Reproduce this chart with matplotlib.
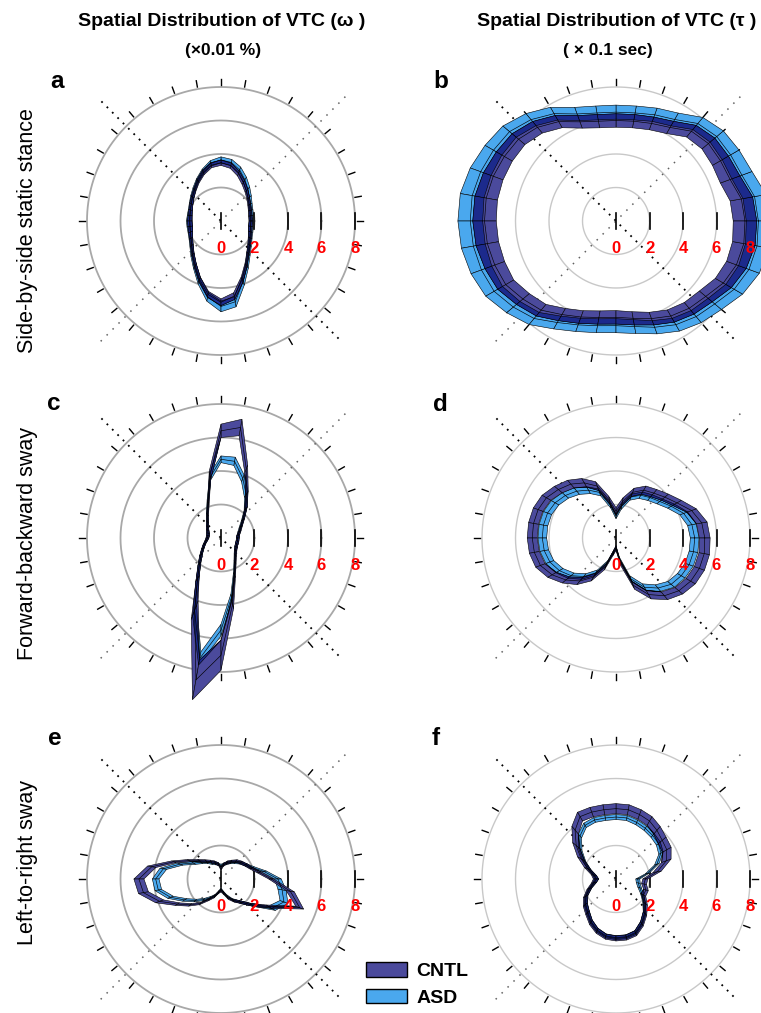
import numpy as np
import matplotlib
matplotlib.use("Agg")
import matplotlib.pyplot as plt
from matplotlib.patches import Patch

plt.rcParams['font.family'] = ['Liberation Sans', 'DejaVu Sans']

# ---------------- data ----------------
ANGLES_DEG = list(range(0, 360, 10))
RINGS = [2, 4, 6, 8]
AXIS_TICKS = [0, 2, 4, 6, 8]
AXIS_LABELS = ["0", "2", "4", "6", "8"]
OUTER_TICK_DEG = list(range(0, 360, 10))
GROUPS = ["CNTL", "ASD"]
COL_TITLES = ["Spatial Distribution of VTC (\u03c9 )", "Spatial Distribution of VTC (\u03c4 )"]
COL_SUBTITLES = ["(\u00d70.01 %)", "( \u00d7 0.1 sec)"]
ROW_LABELS = ["Side-by-side static stance", "Forward-backward sway", "Left-to-right sway"]
PANEL_LETTERS = ["a", "b", "c", "d", "e", "f"]

A_CNTL_MEAN = [1.78,1.78,1.84,1.95,2.12,2.36,2.66,3.02,3.35,3.48,3.38,3.08,2.74,2.43,2.21,2.04,1.93,1.87,1.86,1.86,1.93,2.06,2.27,2.60,3.07,3.72,4.45,4.85,4.55,3.70,3.00,2.50,2.19,1.98,1.85,1.78]
A_CNTL_SE = [0.10,0.10,0.10,0.10,0.10,0.12,0.14,0.15,0.16,0.16,0.15,0.14,0.12,0.10,0.10,0.10,0.10,0.12,0.14,0.14,0.12,0.10,0.10,0.10,0.12,0.14,0.18,0.20,0.20,0.16,0.12,0.10,0.10,0.10,0.10,0.10]
A_ASD_MEAN = [1.80,1.82,1.90,2.02,2.22,2.50,2.85,3.25,3.55,3.65,3.50,3.15,2.80,2.48,2.24,2.06,1.95,1.90,1.90,1.90,1.95,2.08,2.30,2.65,3.12,3.80,4.60,5.10,4.90,3.85,3.10,2.56,2.24,2.02,1.88,1.80]
A_ASD_SE = [0.12,0.12,0.12,0.12,0.14,0.16,0.18,0.18,0.18,0.18,0.16,0.14,0.12,0.12,0.12,0.12,0.12,0.14,0.16,0.16,0.14,0.12,0.12,0.14,0.16,0.20,0.26,0.32,0.30,0.22,0.16,0.14,0.12,0.12,0.12,0.12]

B_CNTL_MEAN = [7.70,7.60,7.25,7.20,7.20,7.00,6.45,6.20,6.05,6.00,6.05,6.30,6.85,7.30,7.60,7.70,7.80,7.87,7.85,7.80,7.70,7.60,7.25,6.95,6.45,6.10,5.85,5.75,5.90,6.20,6.55,6.80,7.00,7.40,7.65,7.75]
B_CNTL_SE = [0.70,0.68,0.62,0.55,0.50,0.45,0.42,0.40,0.40,0.40,0.40,0.40,0.42,0.45,0.50,0.55,0.62,0.68,0.70,0.68,0.62,0.55,0.50,0.45,0.42,0.40,0.40,0.40,0.40,0.40,0.42,0.45,0.50,0.55,0.62,0.68]
B_ASD_MEAN = [8.50,8.40,8.00,7.90,7.85,7.60,7.00,6.75,6.55,6.50,6.55,6.80,7.40,7.90,8.30,8.45,8.60,8.72,8.70,8.65,8.55,8.40,8.00,7.60,7.00,6.60,6.35,6.25,6.40,6.75,7.15,7.45,7.70,8.15,8.45,8.55]
B_ASD_SE = [0.72,0.70,0.64,0.58,0.52,0.47,0.44,0.42,0.42,0.42,0.42,0.42,0.44,0.47,0.52,0.58,0.66,0.72,0.74,0.72,0.66,0.58,0.52,0.47,0.44,0.42,0.42,0.42,0.42,0.42,0.44,0.47,0.52,0.58,0.66,0.70]

C_CNTL_MEAN = [1.00,1.05,1.20,1.40,1.75,2.30,3.10,4.40,6.70,6.40,3.80,2.20,1.60,1.25,1.05,0.92,0.82,0.78,0.80,0.88,1.05,1.25,1.55,2.00,2.80,4.60,8.60,7.00,4.00,2.40,1.70,1.35,1.15,1.05,1.00,1.00]
C_CNTL_SE = [0.08,0.08,0.08,0.08,0.10,0.12,0.15,0.25,0.50,0.40,0.25,0.12,0.10,0.08,0.08,0.08,0.08,0.08,0.08,0.08,0.08,0.08,0.10,0.12,0.20,0.60,1.20,0.90,0.30,0.12,0.10,0.08,0.08,0.08,0.08,0.08]
C_ASD_MEAN = [1.00,1.05,1.15,1.35,1.70,2.30,3.00,3.80,4.65,4.70,3.70,2.30,1.65,1.25,1.05,0.90,0.82,0.80,0.82,0.90,1.05,1.25,1.55,2.00,2.80,4.60,7.30,5.50,3.60,2.30,1.65,1.30,1.12,1.03,1.00,1.00]
C_ASD_SE = [0.08,0.08,0.08,0.10,0.12,0.15,0.20,0.22,0.25,0.20,0.18,0.12,0.10,0.08,0.08,0.08,0.08,0.08,0.08,0.08,0.08,0.10,0.12,0.15,0.20,0.35,0.40,0.35,0.20,0.12,0.10,0.08,0.08,0.08,0.08,0.08]

D_CNTL_MEAN = [5.30,5.20,4.80,4.20,3.80,3.50,3.30,2.90,2.20,1.60,2.30,3.30,3.80,4.20,4.50,4.80,4.95,5.00,5.00,4.95,4.80,4.40,3.90,3.35,2.70,1.80,0.90,0.60,1.50,3.00,3.90,4.50,4.90,5.15,5.30,5.35]
D_CNTL_SE = [0.32,0.32,0.30,0.30,0.28,0.28,0.28,0.26,0.24,0.22,0.24,0.28,0.30,0.30,0.30,0.30,0.30,0.30,0.30,0.30,0.30,0.30,0.28,0.28,0.26,0.22,0.18,0.15,0.20,0.26,0.30,0.30,0.30,0.32,0.32,0.32]
D_ASD_MEAN = [4.70,4.60,4.30,3.80,3.40,3.15,2.95,2.60,1.90,1.30,2.00,2.90,3.30,3.65,3.95,4.20,4.35,4.40,4.40,4.35,4.20,3.90,3.50,3.00,2.40,1.60,0.85,0.60,1.30,2.60,3.40,3.90,4.30,4.50,4.65,4.70]
D_ASD_SE = [0.26,0.26,0.25,0.24,0.22,0.22,0.22,0.20,0.18,0.15,0.18,0.22,0.24,0.25,0.25,0.26,0.26,0.26,0.26,0.26,0.25,0.25,0.24,0.22,0.20,0.16,0.12,0.10,0.14,0.20,0.24,0.25,0.26,0.26,0.26,0.26]

E_CNTL_MEAN = [3.00,2.30,1.90,1.70,1.55,1.40,1.20,1.05,0.85,0.60,0.90,1.05,1.20,1.40,1.70,2.20,3.00,4.20,4.90,4.70,3.90,3.00,2.40,1.90,1.40,1.10,0.80,0.70,0.85,1.20,1.50,1.80,2.40,3.30,5.00,4.20]
E_CNTL_SE = [0.15,0.12,0.10,0.10,0.10,0.10,0.10,0.10,0.10,0.08,0.10,0.10,0.10,0.10,0.12,0.12,0.15,0.25,0.30,0.30,0.25,0.15,0.12,0.10,0.10,0.10,0.08,0.08,0.10,0.10,0.10,0.12,0.15,0.20,0.25,0.25]
E_ASD_MEAN = [3.40,2.60,2.00,1.70,1.50,1.30,1.15,1.00,0.90,0.80,0.90,1.00,1.10,1.30,1.55,1.90,2.60,3.50,3.90,3.80,3.20,2.50,2.00,1.60,1.30,1.05,0.80,0.60,0.80,1.10,1.45,1.80,2.40,3.50,4.00,3.70]
E_ASD_SE = [0.20,0.15,0.12,0.10,0.10,0.10,0.10,0.10,0.08,0.08,0.08,0.10,0.10,0.10,0.12,0.15,0.18,0.20,0.20,0.20,0.18,0.15,0.12,0.10,0.10,0.08,0.08,0.08,0.08,0.10,0.10,0.12,0.15,0.25,0.25,0.25]

F_CNTL_MEAN = [1.75,2.50,3.20,3.50,3.60,3.80,4.00,4.10,4.20,4.20,4.20,4.25,4.30,3.80,3.10,2.40,1.80,1.35,1.20,1.35,1.70,2.10,2.40,2.65,3.00,3.30,3.50,3.55,3.55,3.45,3.10,2.70,2.30,1.90,1.90,1.70]
F_CNTL_SE = [0.15,0.25,0.30,0.30,0.30,0.30,0.30,0.30,0.30,0.30,0.30,0.30,0.30,0.30,0.28,0.25,0.20,0.15,0.15,0.15,0.15,0.15,0.15,0.15,0.15,0.15,0.15,0.15,0.15,0.15,0.15,0.15,0.15,0.15,0.15,0.15]
F_ASD_MEAN = [1.30,1.90,2.60,3.10,3.30,3.40,3.50,3.60,3.70,3.70,3.70,3.75,3.70,3.35,2.80,2.20,1.70,1.30,1.15,1.30,1.65,2.05,2.35,2.60,2.95,3.25,3.45,3.50,3.50,3.40,3.05,2.65,2.20,1.80,1.50,1.35]
F_ASD_SE = [0.12,0.12,0.15,0.15,0.15,0.15,0.15,0.15,0.15,0.15,0.15,0.15,0.15,0.15,0.15,0.12,0.12,0.12,0.12,0.12,0.12,0.12,0.12,0.12,0.12,0.12,0.12,0.12,0.12,0.12,0.12,0.12,0.12,0.12,0.12,0.12]

PANELS = [
    (A_CNTL_MEAN, A_CNTL_SE, A_ASD_MEAN, A_ASD_SE),
    (B_CNTL_MEAN, B_CNTL_SE, B_ASD_MEAN, B_ASD_SE),
    (C_CNTL_MEAN, C_CNTL_SE, C_ASD_MEAN, C_ASD_SE),
    (D_CNTL_MEAN, D_CNTL_SE, D_ASD_MEAN, D_ASD_SE),
    (E_CNTL_MEAN, E_CNTL_SE, E_ASD_MEAN, E_ASD_SE),
    (F_CNTL_MEAN, F_CNTL_SE, F_ASD_MEAN, F_ASD_SE),
]

# ---------------- style / layout ----------------
W, H = 761, 1013
C_CNTL = '#4b4a9c'
C_ASD = '#4aa8ee'
C_BOTH = '#1c2a8c'
PX_PER_UNIT = 16.75
RLIM = 11.0
COL_X = [221, 616]
ROW_Y = [221, 538, 879]
RING_STYLE = [('#a8a8a8', 1.3), ('#c8c8c8', 1.0)]

fig = plt.figure(figsize=(W / 100, H / 100), dpi=100)

th = np.deg2rad(ANGLES_DEG)
n = len(th)


def band(ax, lo, hi, color):
    for i in range(n):
        j = (i + 1) % n
        ax.fill([th[i], th[j], th[j], th[i]], [lo[i], lo[j], hi[j], hi[i]],
                facecolor=color, edgecolor='black', linewidth=0.4, zorder=3)


for k, (cm, cs, am, as_) in enumerate(PANELS):
    row, col = divmod(k, 2)
    cx, cy = COL_X[col], ROW_Y[row]
    h = RLIM * PX_PER_UNIT
    ax = fig.add_axes([(cx - h) / W, 1 - (cy + h) / H, 2 * h / W, 2 * h / H],
                      projection='polar')
    ax.set_ylim(0, RLIM)
    ax.grid(False)
    ax.set_xticks([])
    ax.set_yticks([])
    ax.spines['polar'].set_visible(False)
    ax.patch.set_alpha(0)

    # rings
    tt = np.linspace(0, 2 * np.pi, 361)
    rc, rlw = RING_STYLE[col]
    for rr in RINGS:
        ax.plot(tt, np.full_like(tt, rr), color=rc, lw=rlw, zorder=1)
    # outer ticks
    for a in OUTER_TICK_DEG:
        t = np.deg2rad(a)
        ax.plot([t, t], [8.12, 8.5], color='black', lw=1.0, zorder=1)
    # diagonal dotted lines
    ax.plot([np.deg2rad(135), np.deg2rad(315)], [10.1, 10.1], color='black',
            lw=1.3, ls=(0, (1, 3.2)), zorder=1)
    ax.plot([np.deg2rad(45), np.deg2rad(225)], [10.5, 10.5], color='#606060',
            lw=1.1, ls=(0, (1, 4.5)), zorder=1)
    # axis ticks and labels
    for v, lab in zip(AXIS_TICKS, AXIS_LABELS):
        y0, y1 = -0.45, 0.45
        ax.plot([np.arctan2(y0, v), np.arctan2(y1, v)],
                [np.hypot(v, y0), np.hypot(v, y1)], color='black', lw=1.2, zorder=2)
        ax.annotate(lab, xy=(0, v), xytext=(0, -19.5), textcoords='offset points',
                    ha='center', va='center', color='red', fontweight='bold',
                    fontsize=12, zorder=6)

    cm = np.array(cm); cs = np.array(cs); am = np.array(am); as_ = np.array(as_)
    c_lo, c_hi = np.clip(cm - cs, 0, None), cm + cs
    a_lo, a_hi = np.clip(am - as_, 0, None), am + as_
    band(ax, a_lo, a_hi, C_ASD)
    band(ax, c_lo, c_hi, C_CNTL)
    o_lo = np.maximum(c_lo, a_lo)
    o_hi = np.minimum(c_hi, a_hi)
    for i in range(n):
        j = (i + 1) % n
        if o_hi[i] > o_lo[i] or o_hi[j] > o_lo[j]:
            hi_i = max(o_hi[i], o_lo[i]); hi_j = max(o_hi[j], o_lo[j])
            ax.fill([th[i], th[j], th[j], th[i]], [o_lo[i], o_lo[j], hi_j, hi_i],
                    facecolor=C_BOTH, edgecolor='black', linewidth=0.4, zorder=4)
    for m in (cm, am):
        ax.plot(np.append(th, th[0]), np.append(m, m[0]), color='black', lw=0.45, zorder=5)


def ft(x, y, s, **kw):
    fig.text(x / W, 1 - y / H, s, **kw)


ft(222, 22, COL_TITLES[0], ha='center', va='center', fontsize=14, fontweight='bold')
ft(617, 22, COL_TITLES[1], ha='center', va='center', fontsize=14, fontweight='bold')
ft(223, 50, COL_SUBTITLES[0], ha='center', va='center', fontsize=12.5, fontweight='bold')
ft(608, 50, COL_SUBTITLES[1], ha='center', va='center', fontsize=12.5, fontweight='bold')

for r, lab in enumerate(ROW_LABELS):
    ft(28, [231, 543, 862][r], lab, rotation=90, ha='center', va='center', fontsize=15.5)

letter_pos = [(50, 88), (433, 88), (47, 410), (433, 411), (48, 745), (432, 745)]
for (x, y), L in zip(letter_pos, PANEL_LETTERS):
    ft(x, y, L, ha='left', va='baseline', fontsize=17.5, fontweight='bold')

handles = [Patch(facecolor=C_CNTL, edgecolor='black', label=GROUPS[0]),
           Patch(facecolor=C_ASD, edgecolor='black', label=GROUPS[1])]
fig.legend(handles=handles, loc='upper left', bbox_to_anchor=(366 / W, 1 - 962 / H),
           frameon=False, prop={'weight': 'bold', 'size': 14}, handlelength=2.1,
           handleheight=0.78, labelspacing=0.45, handletextpad=0.5,
           borderpad=0, borderaxespad=0)

fig.savefig('out.png', dpi=100)
